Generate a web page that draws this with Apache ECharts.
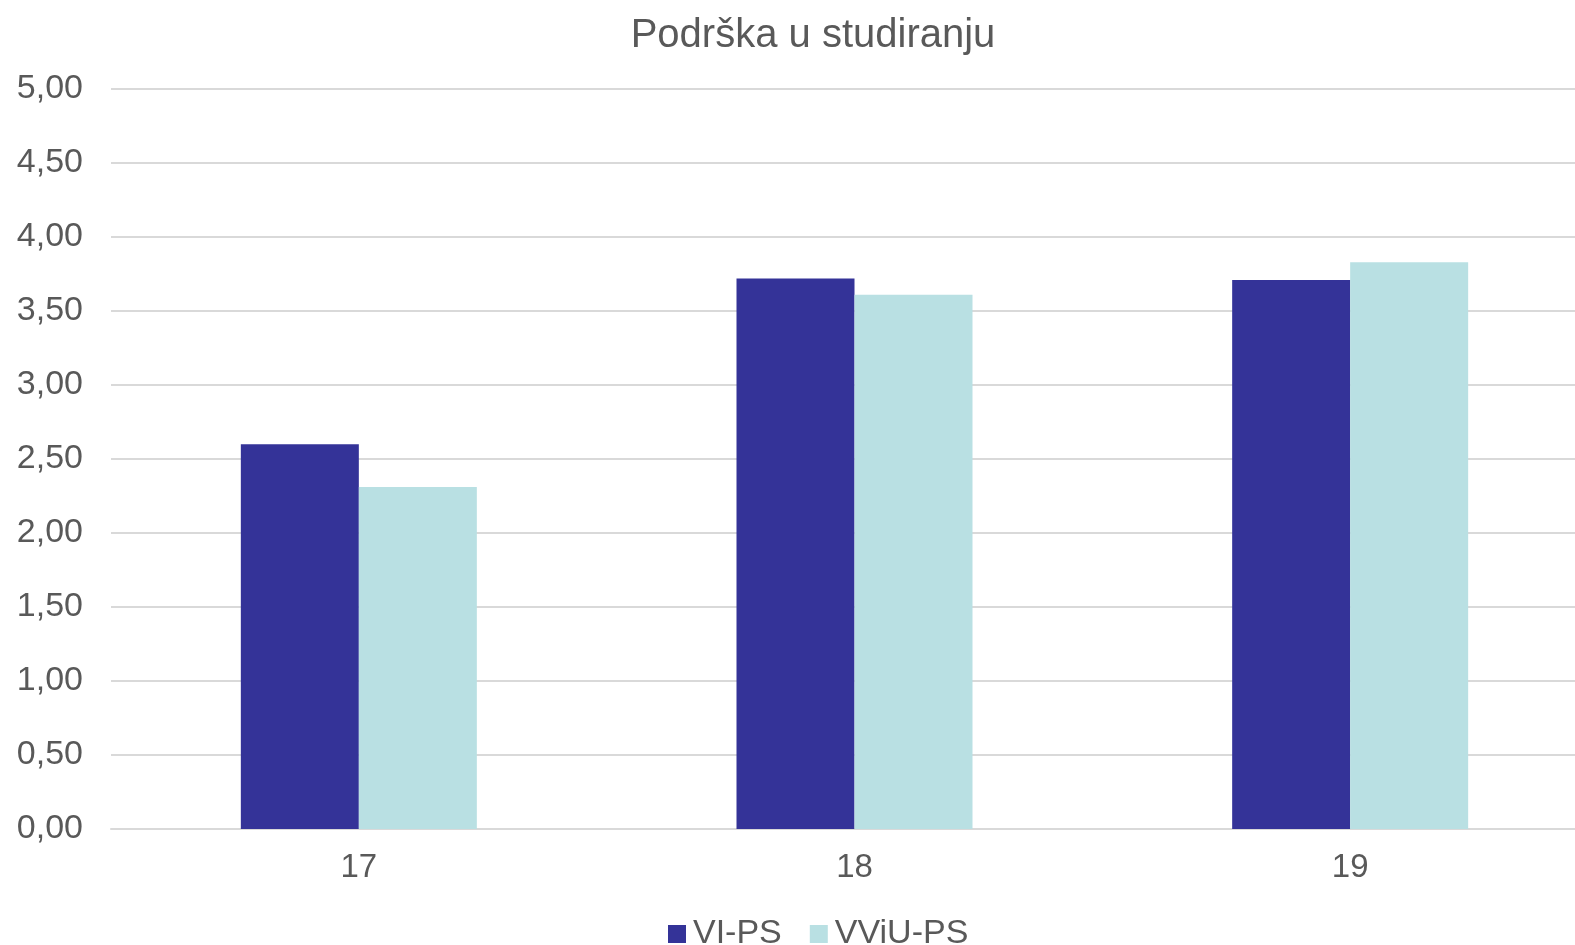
<!DOCTYPE html>
<html>
<head>
<meta charset="utf-8">
<script src="https://cdn.jsdelivr.net/npm/echarts@6/dist/echarts.min.js"></script>
<style>
  html, body { margin: 0; padding: 0; background: #fff; overflow: hidden; }
  #chart { width: 1610px; height: 945px; }
</style>
</head>
<body>
<div id="chart"></div>
<script>
// ---DATA
var categories = ['17', '18', '19'];
var seriesNames = ['VI-PS', 'VViU-PS'];
var viPs = [2.60, 3.72, 3.71];
var vviuPs = [2.31, 3.61, 3.83];

// plot area runs past the right edge of the window, like the original
var chart = echarts.init(document.getElementById('chart'));
var option = {
    animation: false,
    title: {
        text: 'Podrška u studiranju',
        left: 808,
        textAlign: 'center',
        top: 11,
        textStyle: {
            fontFamily: 'Liberation Sans',
            fontSize: 40,
            fontWeight: 'normal',
            color: '#595959'
        }
    },
    legend: {
        data: seriesNames,
        top: 912,
        left: 663,
        itemWidth: 18,
        itemHeight: 18,
        itemGap: 28,
        icon: 'rect',
        textStyle: {
            fontFamily: 'Liberation Sans',
            fontSize: 34,
            color: '#595959',
            padding: [0, 0, 0, 2]
        }
    },
    grid: {
        left: 111,
        top: 89,
        width: 1487,
        height: 740,
        containLabel: false
    },
    xAxis: {
        type: 'category',
        data: categories,
        axisTick: { show: false },
        axisLine: { lineStyle: { color: '#d9d9d9', width: 2 } },
        axisLabel: {
            fontFamily: 'Liberation Sans',
            fontSize: 33,
            color: '#595959',
            margin: 22
        }
    },
    yAxis: {
        type: 'value',
        min: 0,
        max: 5,
        interval: 0.5,
        axisLine: { show: false },
        axisTick: { show: false },
        splitLine: { lineStyle: { color: '#d9d9d9', width: 2 } },
        axisLabel: {
            fontFamily: 'Liberation Sans',
            fontSize: 34,
            color: '#595959',
            margin: 28,
            formatter: function (v) {
                return v.toFixed(2).replace('.', ',');
            }
        }
    },
    series: [{
        name: seriesNames[0],
        type: 'bar',
        barWidth: 118,
        barGap: '0%',
        data: viPs,
        itemStyle: { color: '#343398' }
    }, {
        name: seriesNames[1],
        type: 'bar',
        barWidth: 118,
        barGap: '0%',
        data: vviuPs,
        itemStyle: { color: '#b9e0e3' }
    }]
};
chart.setOption(option);
</script>
</body>
</html>
